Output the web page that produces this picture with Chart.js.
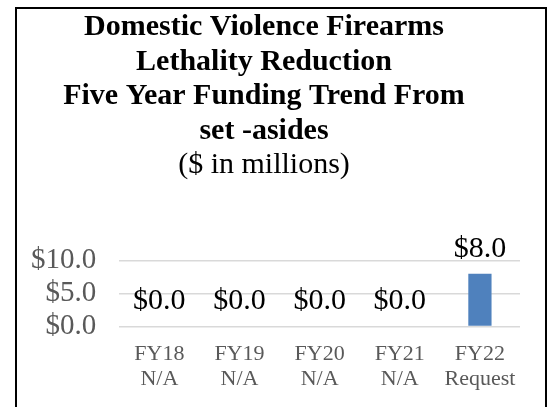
<!DOCTYPE html>
<html>
<head>
<meta charset="utf-8">
<script src="https://cdn.jsdelivr.net/npm/chart.js@4.4.0/dist/chart.umd.min.js"></script>
<style>
  html, body { margin: 0; padding: 0; background: #ffffff; }
  #wrap { width: 553px; height: 407px; }
</style>
</head>
<body>
<div id="wrap"><canvas id="chart" width="553" height="407"></canvas></div>
<script>
// Dados do gráfico
const years = ['FY18', 'FY19', 'FY20', 'FY21', 'FY22'];
const notes = ['N/A', 'N/A', 'N/A', 'N/A', 'Request'];
const funding = [0, 0, 0, 0, 8.0];
const yTicks = [0, 5, 10];

const titleLines = ['Domestic Violence Firearms', 'Lethality Reduction', 'Five Year Funding Trend From', 'set -asides'];
const subtitleText = '($ in millions)';

const serif = '"Liberation Serif", "Times New Roman", serif';

// Moldura em volta do gráfico
const framePlugin = {
    id: 'frame',
    afterDraw(chart) {
        const ctx = chart.ctx;
        ctx.save();
        ctx.strokeStyle = '#000000';
        ctx.lineWidth = 2;
        ctx.strokeRect(16, 8, 530, 420);
        ctx.restore();
    }
};

// Rótulos de valor acima das barras
const valueLabels = {
    id: 'valueLabels',
    afterDatasetsDraw(chart) {
        const ctx = chart.ctx;
        const meta = chart.getDatasetMeta(0);
        ctx.save();
        ctx.font = '30px ' + serif;
        ctx.fillStyle = '#000000';
        ctx.textAlign = 'center';
        ctx.textBaseline = 'alphabetic';
        meta.data.forEach((bar, i) => {
            const v = chart.data.datasets[0].data[i];
            ctx.fillText('$' + v.toFixed(1), bar.x, bar.y - 17);
        });
        ctx.restore();
    }
};

new Chart(document.getElementById('chart'), {
    type: 'bar',
    data: {
        labels: years.map((y, i) => [y, notes[i]]),
        datasets: [{
            data: funding,
            backgroundColor: '#4f81bd',
            barPercentage: 0.5,
            categoryPercentage: 0.58
        }]
    },
    options: {
        responsive: false,
        animation: false,
        layout: { padding: { left: 8, right: 33, top: 10, bottom: 0 } },
        plugins: {
            legend: { display: false },
            tooltip: { enabled: false },
            title: {
                display: true,
                text: titleLines,
                color: '#000000',
                font: { family: serif, size: 30, weight: 'bold', lineHeight: 1.15 },
                padding: { top: 0, bottom: 0 }
            },
            subtitle: {
                display: true,
                text: subtitleText,
                color: '#000000',
                font: { family: serif, size: 30, weight: 'normal', lineHeight: 1.15 },
                padding: { top: 0, bottom: 78 }
            }
        },
        scales: {
            x: {
                grid: { display: false, drawTicks: false },
                border: { display: false },
                ticks: {
                    color: '#595959',
                    font: { family: serif, size: 22, lineHeight: 1.15 },
                    padding: 15,
                    maxRotation: 0
                }
            },
            y: {
                min: 0,
                max: 10,
                afterBuildTicks(axis) {
                    axis.ticks = yTicks.map(v => ({ value: v }));
                },
                grid: { color: '#d9d9d9', lineWidth: 1.5, drawTicks: false },
                border: { display: false },
                ticks: {
                    autoSkip: false,
                    color: '#595959',
                    font: { family: serif, size: 29 },
                    padding: 23,
                    callback: v => '$' + v.toFixed(1)
                }
            }
        }
    },
    plugins: [framePlugin, valueLabels]
});
</script>
</body>
</html>
